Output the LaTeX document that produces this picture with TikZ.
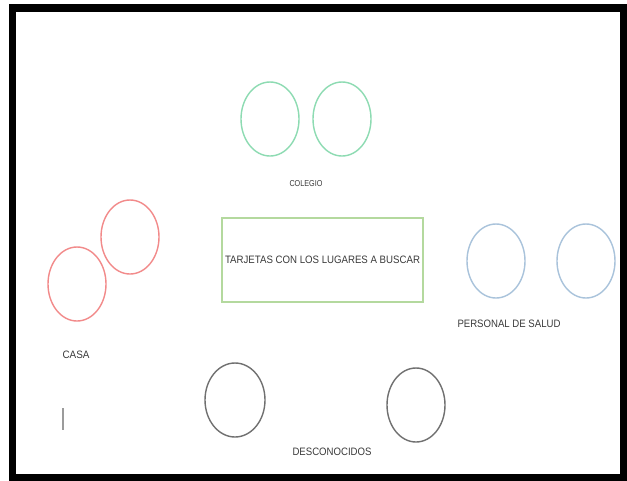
\documentclass[tikz,border=0pt]{standalone}
\usepackage{fontspec}
\setmainfont{Liberation Sans}
\usepackage{graphicx}
\definecolor{cgreen}{HTML}{8DDBB2}
\definecolor{cred}{HTML}{F28A8A}
\definecolor{cblue}{HTML}{A9C3DB}
\definecolor{cgray}{HTML}{707070}
\definecolor{cbox}{HTML}{B4D99E}
\definecolor{ctext}{HTML}{3A3A3A}
\newcommand{\lbl}[3]{\resizebox{#1pt}{#2pt}{#3}}
\tikzset{
  oval/.style={ellipse, draw, line width=1.4pt, minimum width=58pt, minimum height=74pt, inner sep=0pt},
  lab/.style={inner sep=0pt, text=ctext},
}
\usetikzlibrary{shapes.geometric}
\begin{document}
\begin{tikzpicture}[x=1pt,y=-1pt]
\useasboundingbox (0,0) rectangle (627,480);
\fill[white] (0,0) rectangle (627,480);
\draw[line width=7.5pt] (12.5,8) rectangle (624,478);
% colegio
\node[oval, draw=cgreen] (g1) at (270,119) {};
\node[oval, draw=cgreen] (g2) at (342,119) {};
\node[lab] (colegio) at (306,184) {\lbl{33}{6}{COLEGIO}};
% casa
\node[oval, draw=cred] (r1) at (130,237) {};
\node[oval, draw=cred] (r2) at (77,284) {};
\node[lab] (casa) at (76,355) {\lbl{27}{7.5}{CASA}};
% personal de salud
\node[oval, draw=cblue] (b1) at (496,261) {};
\node[oval, draw=cblue] (b2) at (586,261) {};
\node[lab] (salud) at (509,324) {\lbl{103}{7.5}{PERSONAL DE SALUD}};
% desconocidos
\node[oval, draw=cgray, minimum width=60pt] (d1) at (235,400) {};
\node[oval, draw=cgray] (d2) at (416,405) {};
\node[lab] (desc) at (332,452) {\lbl{79}{7.5}{DESCONOCIDOS}};
% center box
\node[draw=cbox, line width=1.4pt, minimum width=201pt, minimum height=84pt, inner sep=0pt] (box) at (322.5,260) {};
\node[lab] (boxtext) at (box.center) {\lbl{195}{7.5}{TARJETAS CON LOS LUGARES A BUSCAR}};
% small mark
\coordinate (m1) at (63,408);
\coordinate (m2) at (63,430);
\draw[cgray!70, line width=1.6pt] (m1) -- (m2);
\end{tikzpicture}
\end{document}
